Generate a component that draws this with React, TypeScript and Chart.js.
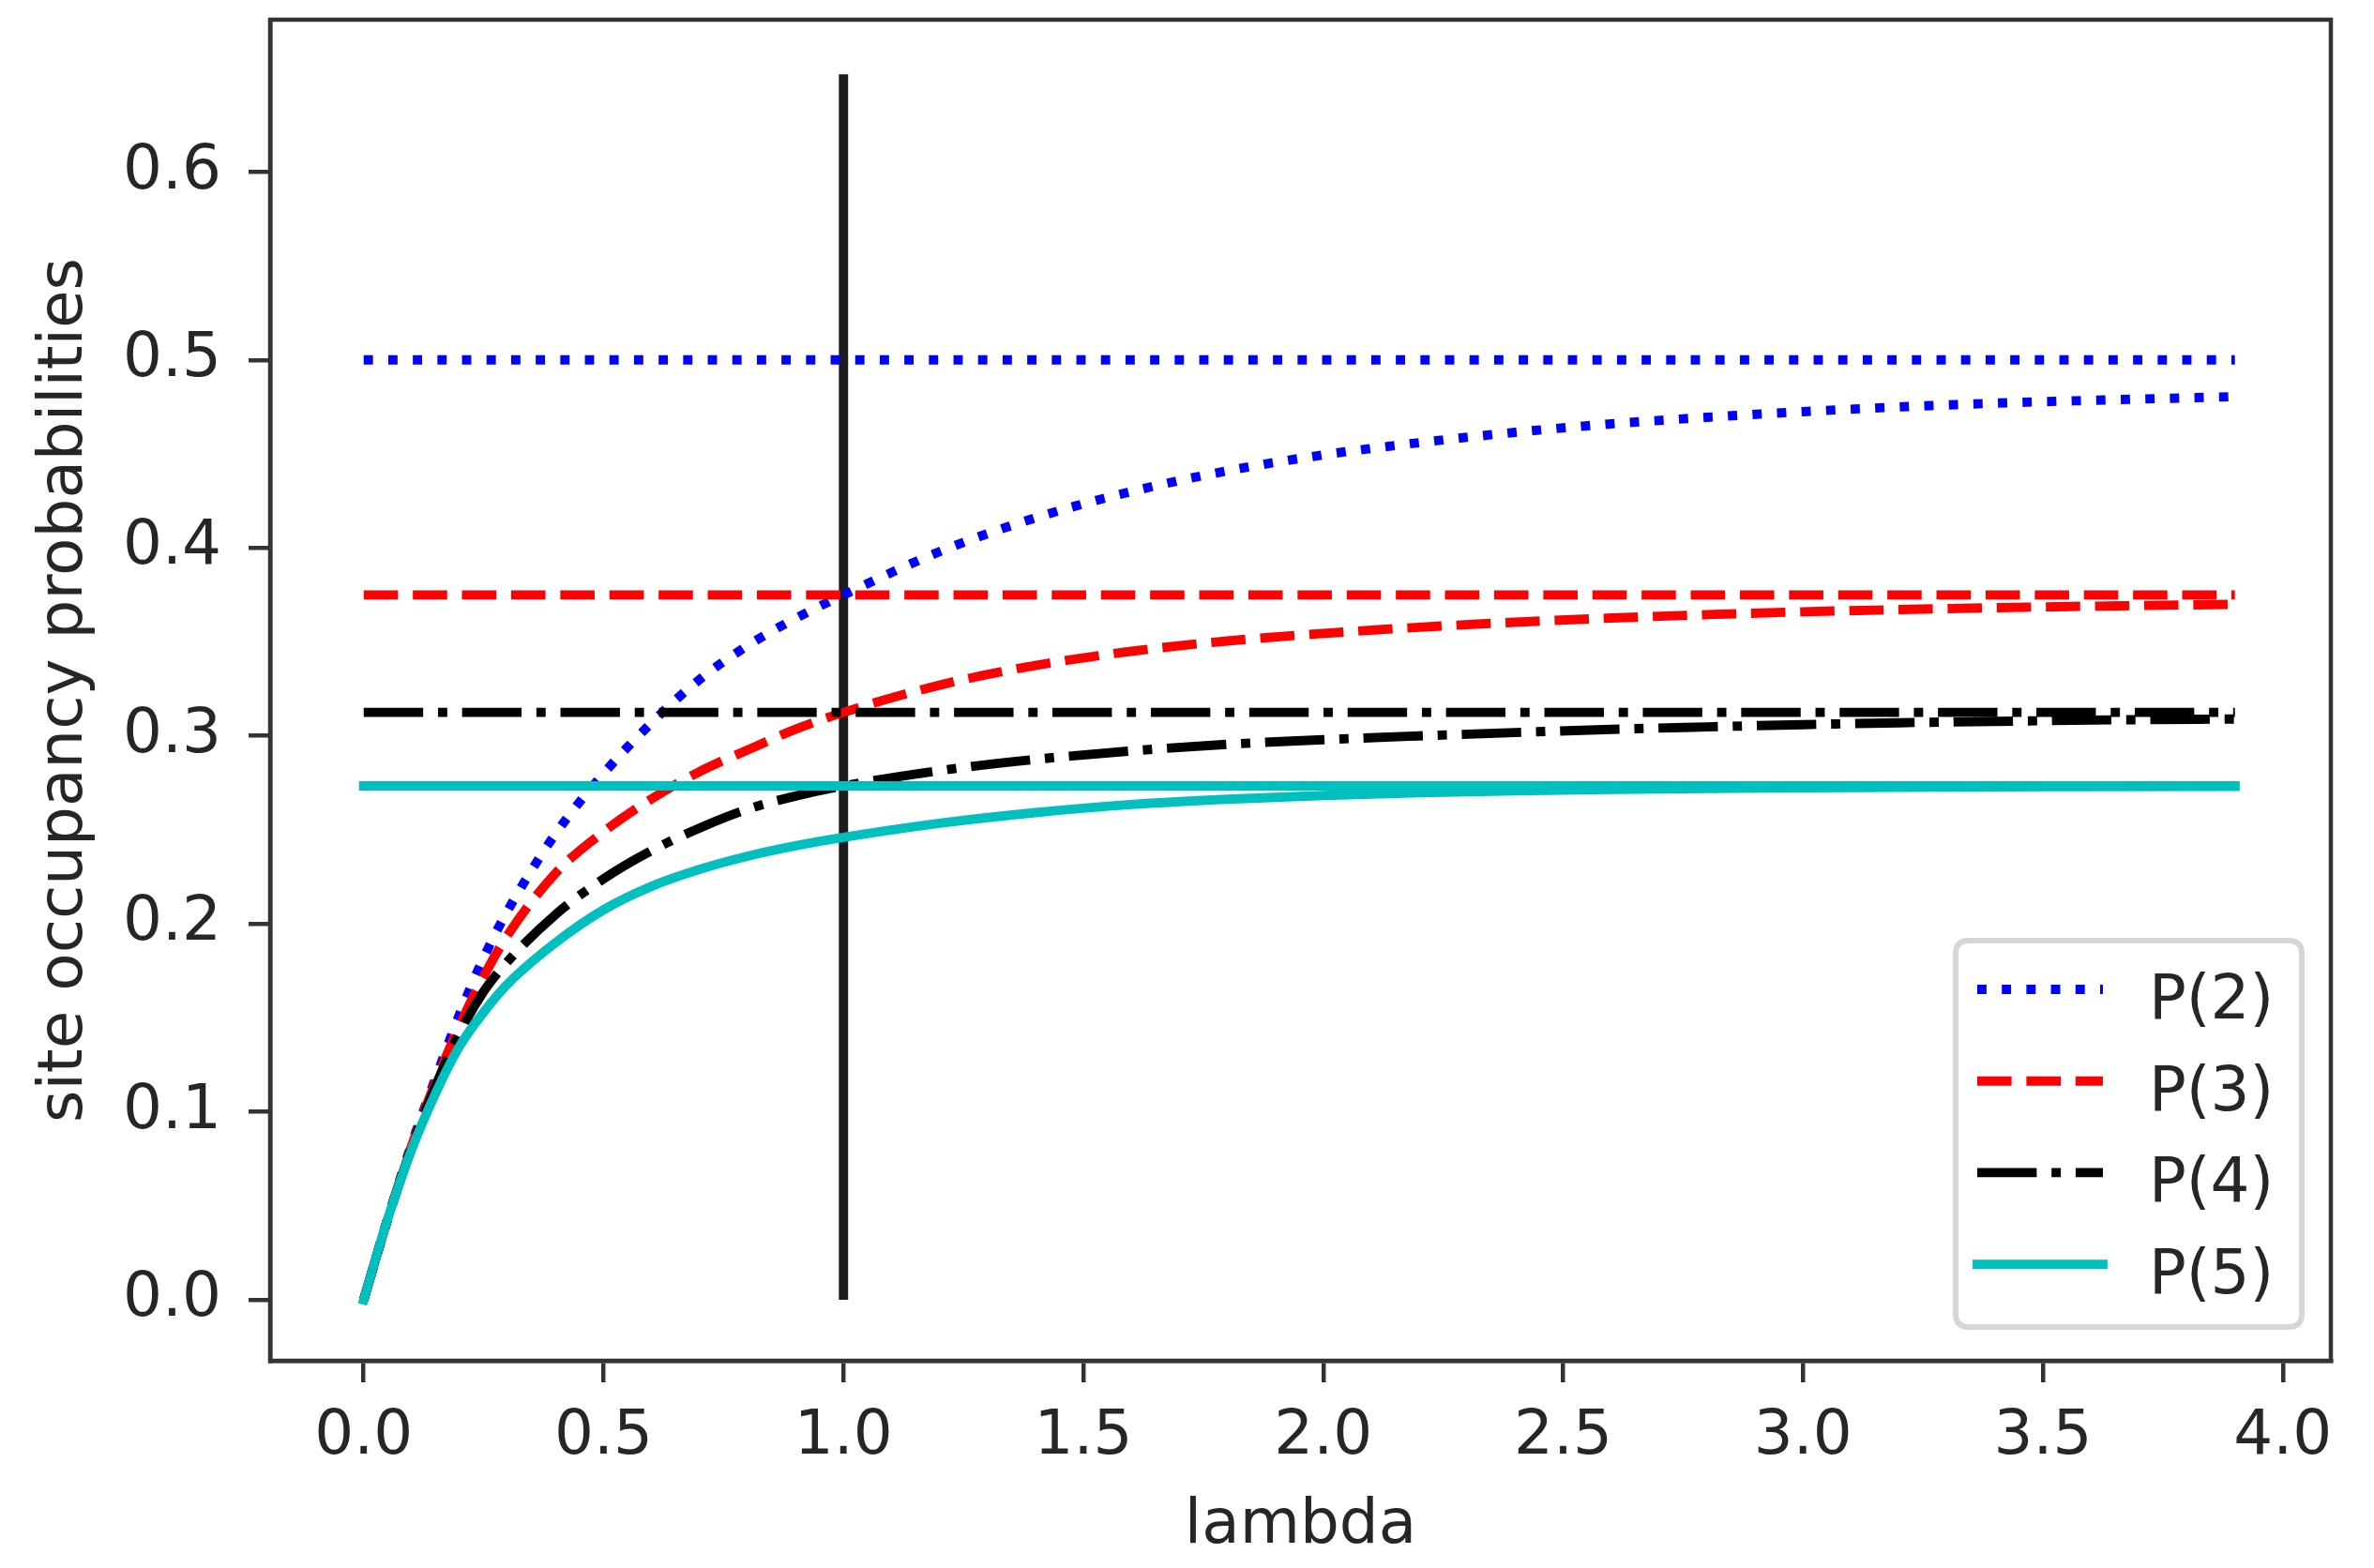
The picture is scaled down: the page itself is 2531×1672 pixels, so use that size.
import React, { useEffect, useRef } from "react";
import { Chart, registerables } from "chart.js";

Chart.register(...registerables);

// ---------- data ----------
const lambdaGrid = [0, 0.05, 0.1, 0.15, 0.2, 0.25, 0.3, 0.4, 0.5, 0.6, 0.7, 0.8, 0.9, 1.0, 1.2, 1.4, 1.6, 1.8, 2.0, 2.2, 2.4, 2.6, 2.8, 3.0, 3.2, 3.4, 3.6, 3.9];

const p2Curve = [0, 0.043, 0.083, 0.118, 0.152, 0.182, 0.207, 0.248, 0.280, 0.307, 0.330, 0.348, 0.3625, 0.375, 0.398, 0.416, 0.430, 0.441, 0.4495, 0.456, 0.4615, 0.466, 0.4695, 0.4725, 0.475, 0.477, 0.4785, 0.4805];
const p3Curve = [0, 0.043, 0.082, 0.116, 0.146, 0.172, 0.194, 0.227, 0.249, 0.2665, 0.281, 0.2925, 0.3035, 0.3125, 0.327, 0.3375, 0.345, 0.3505, 0.3545, 0.3578, 0.3605, 0.3627, 0.3645, 0.366, 0.3672, 0.3682, 0.369, 0.370];
const p4Curve = [0, 0.043, 0.081, 0.114, 0.142, 0.164, 0.180, 0.205, 0.224, 0.239, 0.251, 0.261, 0.268, 0.2734, 0.2815, 0.2875, 0.292, 0.2955, 0.298, 0.300, 0.3018, 0.3035, 0.3048, 0.306, 0.307, 0.3077, 0.3084, 0.309];
const p5Curve = [0, 0.043, 0.080, 0.110, 0.135, 0.153, 0.168, 0.190, 0.2075, 0.220, 0.229, 0.236, 0.2415, 0.246, 0.2535, 0.2592, 0.2635, 0.2663, 0.2683, 0.2698, 0.2708, 0.2715, 0.272, 0.2724, 0.2727, 0.2729, 0.273, 0.2731];

const limitLambda = [0, 3.9];
const p2Limit = 0.5;
const p3Limit = 0.375;
const p4Limit = 0.3125;
const p5Limit = 0.2734;

const markerLambda = [1, 1];
const markerValues = [0, 0.652];

const seriesLabels = ["P(2)", "P(3)", "P(4)", "P(5)"];
const xTickValues = [0, 0.5, 1, 1.5, 2, 2.5, 3, 3.5, 4];
const yTickValues = [0, 0.1, 0.2, 0.3, 0.4, 0.5, 0.6];
const xTitle = "lambda";
const yTitle = "site occupancy probabilities";

// ---------- layout / style ----------
const W = 2531;
const H = 1672;
const FONT = "'DejaVu Sans', 'Noto Sans', sans-serif";
const FS = 66;
const TEXT = "#262626";
const AXIS = "#333333";
const LW = 9.9;

const DOTTED = [9.9, 16.3];
const DASHED = [36.6, 15.8];
const DASHDOT = [63.4, 15.8, 9.9, 15.8];

const framePlugin = {
  id: "frame",
  afterDatasetsDraw(chart: any) {
    const { ctx, chartArea } = chart;
    ctx.save();
    ctx.strokeStyle = AXIS;
    ctx.lineWidth = 4.5;
    ctx.setLineDash([]);
    ctx.strokeRect(chartArea.left, chartArea.top, chartArea.right - chartArea.left, chartArea.bottom - chartArea.top);
    ctx.restore();
  },
};

const legendPlugin = {
  id: "insideLegend",
  afterDraw(chart: any) {
    const { ctx, chartArea } = chart;
    const boxW = 369;
    const boxH = 412;
    const right = chartArea.right - 31;
    const bottom = chartArea.bottom - 36;
    const left = right - boxW;
    const top = bottom - boxH;
    const r = 14;
    ctx.save();
    ctx.beginPath();
    ctx.moveTo(left + r, top);
    ctx.lineTo(right - r, top);
    ctx.quadraticCurveTo(right, top, right, top + r);
    ctx.lineTo(right, bottom - r);
    ctx.quadraticCurveTo(right, bottom, right - r, bottom);
    ctx.lineTo(left + r, bottom);
    ctx.quadraticCurveTo(left, bottom, left, bottom - r);
    ctx.lineTo(left, top + r);
    ctx.quadraticCurveTo(left, top, left + r, top);
    ctx.closePath();
    ctx.fillStyle = "rgba(255,255,255,0.8)";
    ctx.fill();
    ctx.strokeStyle = "#d6d6d6";
    ctx.lineWidth = 6;
    ctx.stroke();

    const items = chart.data.datasets.filter((d: any) => d.inLegend);
    items.forEach((d: any, i: number) => {
      const y = top + 52 + i * 97.7;
      ctx.beginPath();
      ctx.setLineDash(d.borderDash || []);
      ctx.lineDashOffset = 0;
      ctx.lineCap = d.borderCapStyle || "butt";
      ctx.strokeStyle = d.borderColor;
      ctx.lineWidth = d.borderWidth;
      ctx.moveTo(left + 23, y);
      ctx.lineTo(left + 157, y);
      ctx.stroke();
      ctx.setLineDash([]);
      ctx.fillStyle = TEXT;
      ctx.font = `${FS}px ${FONT}`;
      ctx.textAlign = "left";
      ctx.textBaseline = "alphabetic";
      ctx.fillText(d.label, left + 206, y + 31);
    });
    ctx.restore();
  },
};

export default function App() {
  const ref = useRef<HTMLCanvasElement>(null);

  useEffect(() => {
    const canvas = ref.current;
    if (!canvas) return;
    const pts = (xs: number[], ys: number[]) => xs.map((x, i) => ({ x, y: ys[i] }));

    const series = [
      { label: seriesLabels[0], curve: p2Curve, level: p2Limit, color: "#0000ff", dash: DOTTED, cap: "butt" },
      { label: seriesLabels[1], curve: p3Curve, level: p3Limit, color: "#ff0000", dash: DASHED, cap: "butt" },
      { label: seriesLabels[2], curve: p4Curve, level: p4Limit, color: "#000000", dash: DASHDOT, cap: "butt" },
      { label: seriesLabels[3], curve: p5Curve, level: p5Limit, color: "#00bfbf", dash: [] as number[], cap: "square" },
    ];

    const datasets: any[] = [
      {
        label: "",
        data: pts(markerLambda, markerValues),
        borderColor: "#1c1c1c",
        borderWidth: LW,
        borderCapStyle: "butt",
        pointRadius: 0,
        order: 100,
        inLegend: false,
      },
    ];
    series.forEach((s, i) => {
      datasets.push({
        label: s.label,
        data: pts(lambdaGrid, s.curve),
        borderColor: s.color,
        borderWidth: LW,
        borderDash: s.dash,
        borderCapStyle: s.cap,
        borderJoinStyle: "round",
        cubicInterpolationMode: "monotone",
        pointRadius: 0,
        order: 20 - 2 * i,
        inLegend: true,
      });
      datasets.push({
        label: "",
        data: pts(limitLambda, [s.level, s.level]),
        borderColor: s.color,
        borderWidth: LW,
        borderDash: s.dash,
        borderCapStyle: s.cap,
        pointRadius: 0,
        order: 19 - 2 * i,
        inLegend: false,
      });
    });

    Chart.defaults.font.family = FONT;

    const chart = new Chart(canvas, {
      type: "line",
      data: { datasets },
      plugins: [framePlugin, legendPlugin],
      options: {
        responsive: false,
        animation: false,
        devicePixelRatio: 1,
        layout: { padding: { top: 21, right: 46, bottom: 0, left: 0 } },
        plugins: { legend: { display: false }, tooltip: { enabled: false } },
        elements: { line: { tension: 0 } },
        scales: {
          x: {
            type: "linear",
            min: -0.195,
            max: 4.1,
            afterBuildTicks: (s: any) => {
              s.ticks = xTickValues.map((v) => ({ value: v }));
            },
            afterFit: (s: any) => {
              s.height = H - 1451;
              s.paddingLeft = 0;
              s.paddingRight = 0;
            },
            ticks: {
              autoSkip: false,
              maxRotation: 0,
              padding: 19,
              color: TEXT,
              font: { family: FONT, size: FS },
              callback: (v: any) => Number(v).toFixed(1),
            },
            grid: { drawOnChartArea: false, drawTicks: true, tickLength: 23, color: AXIS, lineWidth: 4.5 },
            border: { display: true, color: AXIS, width: 4.5 },
            title: {
              display: true,
              text: xTitle,
              color: TEXT,
              font: { family: FONT, size: FS },
              padding: { top: 0, bottom: 5 },
            },
          },
          y: {
            type: "linear",
            min: -0.0324,
            max: 0.681,
            afterBuildTicks: (s: any) => {
              s.ticks = yTickValues.map((v) => ({ value: v }));
            },
            afterFit: (s: any) => {
              s.width = 288;
              s.paddingTop = 0;
              s.paddingBottom = 0;
            },
            ticks: {
              autoSkip: false,
              padding: 29,
              color: TEXT,
              font: { family: FONT, size: FS },
              callback: (v: any) => Number(v).toFixed(1),
            },
            grid: { drawOnChartArea: false, drawTicks: true, tickLength: 23, color: AXIS, lineWidth: 4.5 },
            border: { display: true, color: AXIS, width: 4.5 },
            title: {
              display: true,
              text: yTitle,
              color: TEXT,
              font: { family: FONT, size: FS },
              padding: { top: 30, bottom: 0 },
            },
          },
        },
      } as any,
    });

    return () => chart.destroy();
  }, []);

  return (
    <div style={{ position: "fixed", left: 0, top: 0, width: W, height: H, background: "#ffffff" }}>
      <canvas ref={ref} width={W} height={H} style={{ display: "block", width: W, height: H }} />
    </div>
  );
}
